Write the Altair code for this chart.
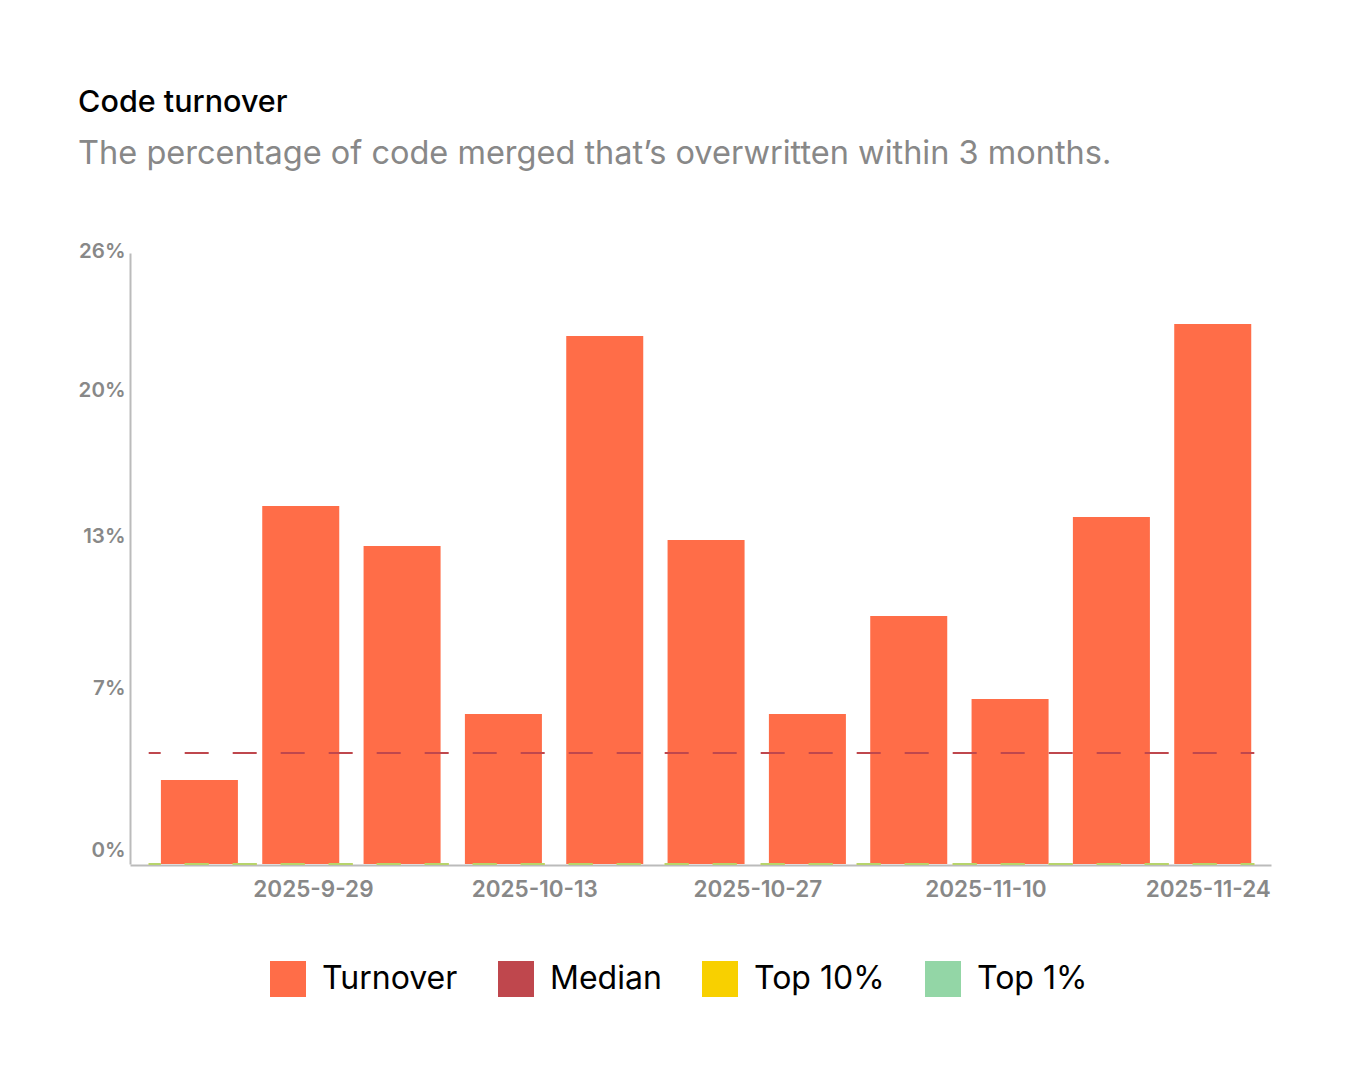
import altair as alt
import pandas as pd

# ---------------- data ----------------
weeks = ["2025-09-15", "2025-09-22", "2025-09-29", "2025-10-06", "2025-10-13",
         "2025-10-20", "2025-10-27", "2025-11-03", "2025-11-10", "2025-11-17",
         "2025-11-24"]
turnover = [3.57, 15.23, 13.53, 6.38, 22.47, 13.79, 6.38, 10.55, 7.02, 14.77, 22.98]

line_names = ["Median", "Top 10%", "Top 1%"]
line_values = [4.72, 0.0, 0.0]
line_start = "2025-09-15T00:00:00"
line_end = "2025-11-23T00:00:00"

series_names = ["Turnover", "Median", "Top 10%", "Top 1%"]
series_colors = ["#FF6D48", "#BF474D", "#F8D000", "#93D6A6"]

x_tick_dates = [(2025, 9, 29), (2025, 10, 13), (2025, 10, 27), (2025, 11, 10), (2025, 11, 24)]
y_tick_values = [0.5, 7.4, 13.85, 20.05, 26]
y_tick_labels = ["0%", "7%", "13%", "20%", "26%"]

bars_df = pd.DataFrame({"week": weeks, "value": turnover, "series": "Turnover"})
lines_df = pd.DataFrame({
    "series": line_names,
    "value": line_values,
    "start": [line_start] * 3,
    "end": [line_end] * 3,
})

FONT = "Inter"
GRAY = "#888888"
AXIS = "#BBBBBB"

label_expr = ("[" + ",".join("'%s'" % s for s in y_tick_labels) + "][indexof(["
              + ",".join(str(v) for v in y_tick_values) + "], datum.value)]")


def y_enc():
    return alt.Y(
        "value:Q",
        scale=alt.Scale(domain=[0, 26], nice=False),
        axis=alt.Axis(
            values=y_tick_values, labelExpr=label_expr, ticks=False, grid=False,
            domainColor=AXIS, domainWidth=2, labelFont=FONT, labelFontSize=20.5,
            labelFontWeight=600, labelColor=GRAY, labelPadding=5,
            labelBaseline="middle", labelOffset=-2, title=None,
        ),
    )


bars = alt.Chart(bars_df).mark_bar().encode(
    x=alt.X("week:N", sort=weeks,
            scale=alt.Scale(paddingInner=0.24, paddingOuter=0.25, align=0.61),
            axis=None),
    y=y_enc(),
    color=alt.Color(
        "series:N",
        scale=alt.Scale(domain=series_names, range=series_colors),
        legend=alt.Legend(
            title=None, orient="none", legendX=140, legendY=708,
            direction="horizontal", columns=4, symbolType="square",
            symbolSize=1296, symbolStrokeWidth=0, labelFontSize=32,
            labelFont=FONT, labelColor="#000000", labelOffset=16,
            columnPadding=40,
        ),
    ),
)


def time_x(field):
    return alt.X(
        field,
        scale=alt.Scale(domain=[
            alt.DateTime(year=2025, month=9, date=13, hours=20),
            alt.DateTime(year=2025, month=11, date=24, hours=1),
        ]),
        axis=alt.Axis(
            values=[alt.DateTime(year=y, month=m, date=d) for (y, m, d) in x_tick_dates],
            format="%Y-%-m-%-d", labelAlign="right", labelFlush=False, ticks=False,
            grid=False, domainColor=AXIS, domainWidth=2, labelFont=FONT,
            labelFontSize=22.5, labelFontWeight=600, labelColor=GRAY,
            labelPadding=13, offset=1, title=None,
        ),
    )


def line_layer(name, color, opacity=1.0):
    return alt.Chart(lines_df).transform_filter(
        alt.datum.series == name
    ).mark_rule(
        strokeDash=[24, 24], strokeDashOffset=12, strokeWidth=2,
        color=color, opacity=opacity,
    ).encode(
        x=time_x("start:T"),
        x2="end:T",
        y=y_enc(),
    )


lines = alt.layer(
    line_layer("Top 10%", "#F8D000"),
    line_layer("Top 1%", "#93D6A6", opacity=0.65),
    line_layer("Median", "#BF474D"),
)

chart = alt.layer(bars, lines).resolve_scale(x="independent").properties(
    width=1141,
    height=611,
    padding={"left": 122, "top": 245, "right": 40, "bottom": 200},
    autosize=alt.AutoSizeParams(type="none"),
    background="white",
    title=alt.Title(
        text="Code turnover",
        subtitle="The percentage of code merged that\u2019s overwritten within 3 months.",
        anchor="start", frame="bounds", font=FONT, fontSize=30.5, fontWeight=500,
        color="#000000", subtitleFont=FONT, subtitleFontSize=32.5,
        subtitleColor=GRAY, subtitlePadding=19, offset=71,
    ),
).configure_view(strokeWidth=0)

chart.save("out.html", embed_options={"renderer": "svg", "actions": False})
